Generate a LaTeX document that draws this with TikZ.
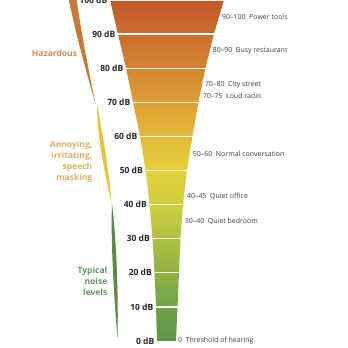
\documentclass[tikz,border=0pt]{standalone}
\usepackage{fontspec}
\setmainfont{Open Sans}
\usetikzlibrary{positioning,calc}
\definecolor{lvl0}{HTML}{5B9646}
\definecolor{lvl1}{HTML}{72A246}
\definecolor{lvl2}{HTML}{8FB244}
\definecolor{lvl3}{HTML}{AEC041}
\definecolor{lvl4}{HTML}{CDCE3D}
\definecolor{lvl5}{HTML}{E6CF3A}
\definecolor{lvl6}{HTML}{E4BA38}
\definecolor{lvl7}{HTML}{DDA035}
\definecolor{lvl8}{HTML}{D58532}
\definecolor{lvl9}{HTML}{CC6D2F}
\definecolor{lvl10}{HTML}{C3582B}
\definecolor{hazcol}{HTML}{C98A5A}
\definecolor{annoycol}{HTML}{D9B260}
\definecolor{typcol}{HTML}{5F9664}
\definecolor{hazbar}{HTML}{C87A35}
\definecolor{annoybar}{HTML}{E8C43A}
\definecolor{typbar}{HTML}{588C44}
\tikzset{dblabel/.style = {font=\fontsize{8.5}{10}\selectfont\bfseries, text=black!85, inner sep=0pt}}
\tikzset{srclabel/.style = {font=\fontsize{7}{8}\selectfont, text=black!75, inner sep=0pt}}
\tikzset{grouplabel/.style = {font=\fontsize{8.5}{11}\selectfont\bfseries, align=right, inner sep=0pt}}
\tikzset{tick/.style = {white, line width=1.3pt}}

\begin{document}
\begin{tikzpicture}[x=1pt, y=1pt]
  \useasboundingbox (0,0) rectangle (348,348);
  % funnel edges, one pair every 10 dB
  \foreach \lv/\xl/\xr in {0/157/176, 1/156/177.5, 2/154.5/179, 3/152.5/180.5, 4/149.5/183,
      5/145.5/187, 6/140/192.5, 7/133/198.5, 8/126/205.5, 9/118/214, 10/110/224} {
    \coordinate (L\lv) at (\xl, 7+34.1*\lv);
    \coordinate (R\lv) at (\xr, 7+34.1*\lv);
  }
  \coordinate (Ltop) at (107, 360);
  \coordinate (Rtop) at (227.5, 360);

  \begin{scope}
    \clip plot[smooth] coordinates {(L0) (L1) (L2) (L3) (L4) (L5) (L6) (L7) (L8) (L9) (L10) (Ltop)}
      -- plot[smooth] coordinates {(Rtop) (R10) (R9) (R8) (R7) (R6) (R5) (R4) (R3) (R2) (R1) (R0)} -- cycle;
    \foreach \i in {0,...,9} {
      \pgfmathtruncatemacro\j{\i+1}
      \shade[bottom color=lvl\i, top color=lvl\j] (90, 7+34.1*\i) rectangle (240, 7+34.1*\j);
    }
    \fill[lvl10] (90, 347.9) rectangle (240, 365);
  \end{scope}
  \foreach \i in {1,...,10}
    \draw[tick] (L\i) -- (R\i);

  % dB scale
  \foreach \i in {0,...,10} {
    \pgfmathtruncatemacro\db{10*\i}
    \node[dblabel, left=2.5pt of L\i] (lab\i) {\db\ dB};
  }

  % sources
  \coordinate (p95) at ($(R9)!0.5!(R10)$);
  \coordinate (p85) at ($(R8)!0.5!(R9)$);
  \coordinate (p75) at ($(R7)!0.5!(R8)$);
  \coordinate (p72) at ($(R7)!0.2!(R8)$);
  \coordinate (p55) at ($(R5)!0.5!(R6)$);
  \coordinate (p42) at ($(R4)!0.25!(R5)$);
  \coordinate (p35) at ($(R3)!0.5!(R4)$);
  \node[srclabel, right=3pt of p95] (tools) {90--100\enspace Power tools};
  \node[srclabel, right=3pt of p85] (restaurant) {80--90\enspace Busy restaurant};
  \node[srclabel, right=3pt of p75] (street) {70--80\enspace City street};
  \node[srclabel, right=3pt of p72] (radio) {70--75\enspace Loud radio};
  \node[srclabel, right=3pt of p55] (talk) {50--60\enspace Normal conversation};
  \node[srclabel, right=3pt of p42] (office) {40--45\enspace Quiet office};
  \node[srclabel, right=3pt of p35] (bedroom) {30--40\enspace Quiet bedroom};
  \node[srclabel, right=2pt of R0] (threshold) {0\enspace Threshold of hearing};

  % groups
  \fill[hazbar] (68,352) .. controls (75,318) and (85,280) .. (95.5,244)
    .. controls (88,280) and (81,318) .. (76,352) -- cycle;
  \fill[annoybar] (97,244) .. controls (97,212) and (104,178) .. (111.5,145)
    .. controls (109,178) and (103,212) .. (97,244) -- cycle;
  \fill[typbar] (112,144) .. controls (110.5,110) and (114,50) .. (117.5,10)
    .. controls (118.5,50) and (116.5,110) .. (112,144) -- cycle;
  \node[grouplabel, text=hazcol] (haz) at (54.5,295) {Hazardous};
  \node[grouplabel, text=annoycol, anchor=east] (annoy) at (92.5,186.5) {Annoying,\\irritating,\\speech\\masking};
  \node[grouplabel, text=typcol, anchor=east] (typ) at (107.5,66.5) {Typical\\noise\\levels};
\end{tikzpicture}
\end{document}
